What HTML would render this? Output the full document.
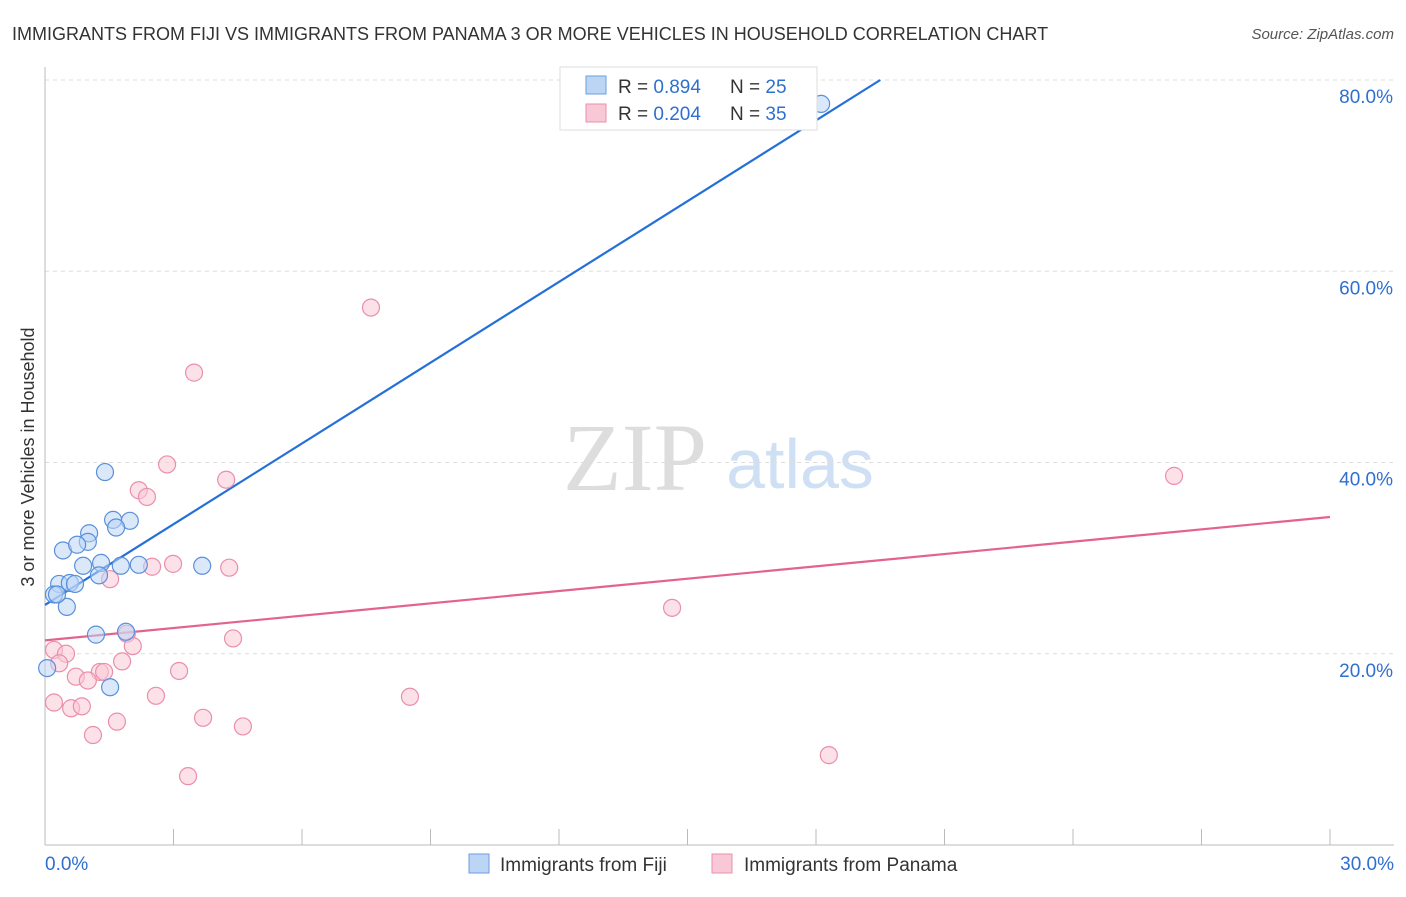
<!DOCTYPE html>
<html><head><meta charset="utf-8"><style>
body{margin:0;background:#fff;font-family:"Liberation Sans",sans-serif}
</style></head><body>
<svg width="1406" height="892" xmlns="http://www.w3.org/2000/svg" style="font-family:'Liberation Sans',sans-serif">
<text x="12" y="40" font-size="18" fill="#333">IMMIGRANTS FROM FIJI VS IMMIGRANTS FROM PANAMA 3 OR MORE VEHICLES IN HOUSEHOLD CORRELATION CHART</text>
<text x="1394" y="39" font-size="15" fill="#555" text-anchor="end" font-style="italic">Source: ZipAtlas.com</text>
<g>
<text x="635" y="490" font-size="96" fill="#ddd" font-family="Liberation Serif,serif" text-anchor="middle">ZIP</text>
<text x="800" y="488" font-size="70" fill="#cfe0f5" text-anchor="middle">atlas</text>
</g>
<g id="grid"></g>
<g id="axes"></g>
<g id="lines"></g>
<g id="points"></g>
<text transform="translate(34,457) rotate(-90)" font-size="18" fill="#333" text-anchor="middle">3 or more Vehicles in Household</text>
<g>
<rect x="560" y="67" width="257" height="63" fill="#fff" stroke="#ddd"/>
<rect x="586" y="76" width="20" height="18" fill="#bcd5f5" stroke="#6a9ee0"/>
<rect x="586" y="104" width="20" height="18" fill="#f9c8d7" stroke="#ea8fab"/>
<text x="618" y="93" font-size="19" fill="#333">R = <tspan fill="#2f6fd0">0.894</tspan><tspan x="730">N = </tspan><tspan fill="#2f6fd0">25</tspan></text>
<text x="618" y="120" font-size="19" fill="#333">R = <tspan fill="#2f6fd0">0.204</tspan><tspan x="730">N = </tspan><tspan fill="#2f6fd0">35</tspan></text>
</g>
<g>
<rect x="469" y="854" width="20" height="19" fill="#bcd5f5" stroke="#6a9ee0"/>
<text x="500" y="871" font-size="19" fill="#333">Immigrants from Fiji</text>
<rect x="712" y="854" width="20" height="19" fill="#f9c8d7" stroke="#ea8fab"/>
<text x="744" y="871" font-size="19" fill="#333">Immigrants from Panama</text>
</g>
</svg>
<script>
const yTicks=[20,40,60,80];
const yTickLabels=["20.0%","40.0%","60.0%","80.0%"];
const xTicks=[0,3,6,9,12,15,18,21,24,27,30];
const xEndLabels=["0.0%","30.0%"];
const fijiX=[1.40,1.59,1.98,1.66,1.03,1.00,0.42,0.75,0.89,1.31,1.77,2.19,3.67,1.26,0.33,0.58,0.70,0.21,0.51,1.19,1.89,1.52,0.05,18.12,0.28];
const fijiY=[39.0,34.0,33.9,33.2,32.6,31.7,30.8,31.4,29.2,29.5,29.2,29.3,29.2,28.2,27.3,27.4,27.3,26.2,24.9,22.0,22.3,16.5,18.5,77.5,26.2];
const panX=[7.61,3.48,2.85,4.23,2.19,2.38,2.50,2.99,4.30,1.52,4.39,1.91,2.05,0.21,0.49,0.33,1.80,3.13,1.28,1.38,0.72,1.00,2.59,8.52,0.21,0.61,0.86,1.68,3.69,4.62,1.12,3.34,18.30,14.64,26.36];
const panY=[56.2,49.4,39.8,38.2,37.1,36.4,29.1,29.4,29.0,27.8,21.6,22.1,20.8,20.4,20.0,19.0,19.2,18.2,18.1,18.1,17.6,17.2,15.6,15.5,14.9,14.3,14.5,12.9,13.3,12.4,11.5,7.2,9.4,24.8,38.6];
const fijiTrend=[0,25.1,19.5,80];
const panTrend=[0,21.4,30,34.3];
const NS="http://www.w3.org/2000/svg";
const xs=v=>45+v*(1285/30);
const ys=v=>845-v*(765/80);
function mk(t,a,p){const e=document.createElementNS(NS,t);for(const k in a)e.setAttribute(k,a[k]);document.getElementById(p).appendChild(e);return e;}
yTicks.forEach((t,i)=>{
 const l=mk('line',{x1:45,x2:1394,y1:ys(t),y2:ys(t),stroke:'#ddd','stroke-dasharray':'4,4'},'grid');
 
 
 const tx=mk('text',{x:1393,y:ys(t)+23,'font-size':19,fill:'#2f6fd0','text-anchor':'end'},'grid');
 tx.textContent=yTickLabels[i];
 
 
});
let ax=mk('line',{x1:45,x2:45,y1:67,y2:845,stroke:'#bbb'},'axes');


ax=mk('line',{x1:45,x2:1394,y1:845,y2:845,stroke:'#bbb'},'axes');


xTicks.forEach(t=>{
 const l=mk('line',{x1:xs(t),x2:xs(t),y1:829,y2:845,stroke:'#bbb'},'axes');
 
 
});
[[0,'start',45],[30,'end',1394]].forEach((d,i)=>{
 const tx=mk('text',{x:d[2],y:870,'font-size':19,fill:'#2f6fd0','text-anchor':d[1]},'axes');
 tx.textContent=xEndLabels[i];
 
 
});
function pts(X,Y,fill,stroke,name){X.forEach((x,i)=>{
 const c=mk('circle',{cx:xs(x),cy:ys(Y[i]),r:8.5,fill:fill,stroke:stroke,'stroke-width':1.2,'fill-opacity':0.55},'points');
 
 
});}
pts(panX,panY,'#f9c8d7','#ea8fab','panama-point');
pts(fijiX,fijiY,'#bcd5f5','#5a90db','fiji-point');
let tl=mk('line',{x1:xs(fijiTrend[0]),y1:ys(fijiTrend[1]),x2:xs(fijiTrend[2]),y2:ys(fijiTrend[3]),stroke:'#2470d8','stroke-width':2.2},'lines');


tl=mk('line',{x1:xs(panTrend[0]),y1:ys(panTrend[1]),x2:xs(panTrend[2]),y2:ys(panTrend[3]),stroke:'#e4638e','stroke-width':2.2},'lines');


</script>
</body></html>
